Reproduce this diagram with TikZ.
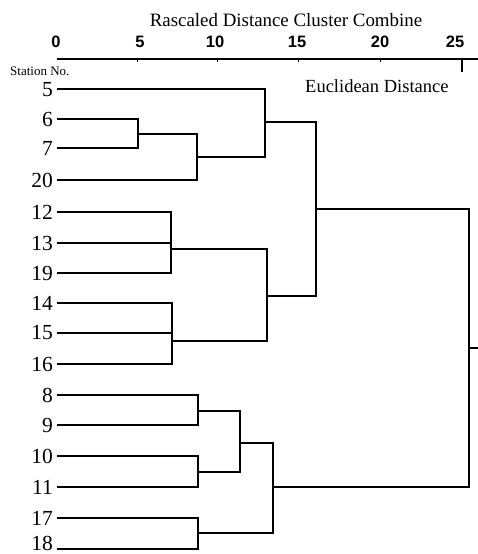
\documentclass[tikz,border=0pt]{standalone}
\usepackage{fontspec}
\setmainfont{Liberation Serif}
\newfontfamily\ticksans{Liberation Sans}
\begin{document}
\begin{tikzpicture}[x=1pt,y=-1pt,
  branch/.style={line width=1.9pt, line cap=rect},
  axisline/.style={line width=1.5pt},
  leaflabel/.style={anchor=east, inner sep=0pt, font=\fontsize{21.5}{21.5}\selectfont},
  ticklabel/.style={anchor=base, inner sep=0pt, font=\ticksans\bfseries\fontsize{16.5}{16.5}\selectfont},
  heading/.style={inner sep=0pt, font=\fontsize{18.9}{19}\selectfont}]
\useasboundingbox (0,0) rectangle (478,554);

% scale of rescaled distances
\node[heading, anchor=base] (title) at (286,26) {Rascaled Distance Cluster Combine};
\foreach \v/\x in {0/56,5/140,10/215,15/297,20/380,25/455}
  \node[ticklabel] (t\v) at (\x,47) {\v};
\coordinate (ax0) at (57,59);
\coordinate (axend) at (478,59);
\draw[axisline] (ax0) -- (axend);
\foreach \x in {137,217,298,380}
  \draw[line width=1pt] (\x,59) -- (\x,62);
\draw[line width=1.5pt] (462,59) -- (462,72);

\node[inner sep=0pt, anchor=base west, font=\fontsize{13}{13}\selectfont] (stn) at (10,75) {Station No.};
\node[inner sep=0pt, anchor=base west, font=\fontsize{18.5}{18.5}\selectfont] (metric) at (305,92) {Euclidean Distance};

% leaves: label plus the start of its branch
\foreach \s/\y/\ly in {5/89/90,6/119/119,7/148/148,20/180/180,12/212/212,13/243/243,19/273/273,14/303/303,15/333/333,16/364/364,8/395/395,9/425/425,10/456/456,11/487/487,17/518/518,18/549/543.5}{
  \coordinate (l\s) at (58,\y);
  \node[leaflabel] (n\s) at (53,\ly) {\s};
}

% merge points
\coordinate (A) at (138,134);
\coordinate (B) at (197,157);
\coordinate (C) at (265,122);
\coordinate (D) at (171,249);
\coordinate (E) at (172,341);
\coordinate (F) at (267,296);
\coordinate (G) at (316,209);
\coordinate (H) at (198,411);
\coordinate (J) at (198,472);
\coordinate (I) at (240,443);
\coordinate (L) at (198,533);
\coordinate (K) at (273,487);
\coordinate (R) at (469,348);
\coordinate (Rout) at (478,348);

% upper cluster
\draw[branch] (l6) -| (A) |- (l7);
\draw[branch] (A) -| (B) |- (l20);
\draw[branch] (l5) -| (C) |- (B);
\draw[branch] (l12) -| (D) |- (l19);
\draw[branch] (l13) -- (l13 -| D);
\draw[branch] (l14) -| (E) |- (l16);
\draw[branch] (l15) -- (l15 -| E);
\draw[branch] (D) -| (F) |- (E);
\draw[branch] (C) -| (G) |- (F);

% lower cluster
\draw[branch] (l8) -| (H) |- (l9);
\draw[branch] (l10) -| (J) |- (l11);
\draw[branch] (H) -| (I) |- (J);
\draw[branch] (l17) -| (L) |- (l18);
\draw[branch] (I) -| (K) |- (L);

% root
\draw[branch] (G) -| (R) |- (K);
\draw[branch] (R) -- (Rout);
\end{tikzpicture}
\end{document}
